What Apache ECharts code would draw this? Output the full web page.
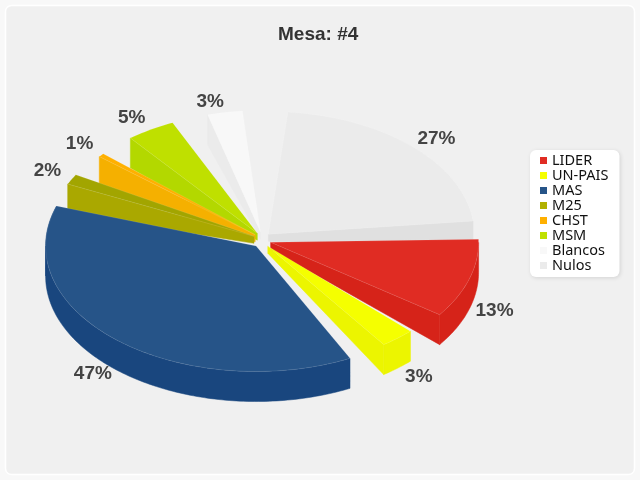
<!DOCTYPE html>
<html><head><meta charset="utf-8">
<script src="https://cdn.jsdelivr.net/npm/echarts@6/dist/echarts.min.js"></script>
<style>html,body{margin:0;padding:0;background:#f8f8f8}#c{width:640px;height:480px}</style>
</head><body><div id="c"></div>
<script>
const categories = ['LIDER','UN-PAIS','MAS','M25','CHST','MSM','Blancos','Nulos'];
const values = [13,3.49,47.4,1.7,0.6,4.9,3.49,27.49];
const topColors = ['#e02c23','#f5ff00','#265488','#a2a500','#ffb000','#bfe000','#f8f8f8','#ebebeb'];
const wallColors = ['#d62319','#ecf500','#19467e','#aaa800','#f5b000','#b3d800','#ebebeb','#e0e0e0'];
const legendColors = ['#e02c23','#f5ff00','#265488','#b0b000','#ffb000','#bfe000','#f8f8f8','#ebebeb'];

// layout of the tilted pie
const CX=262, CY=240, RX=208, RY=124, DEPTH=30, APEX_DEPTH=7, EXPLODE_X=9, EXPLODE_Y=8;
const DEG_PER_UNIT=2.85, START=-1.4;
const GAP_AFTER=[9.35,8.55,6.6,10.05,9.69,9.53,10.55,3];
const RADIUS_SCALE=[1,0.97,1.012,0.99,0.98,0.98,0.98,0.99];
const LABEL_NUDGE=[[-2,-2],[-1,-5],[-8,-7],[3,-1],[3,0],[-2,2],[-9,6],[2,3]];
const DRAW_ORDER=[7,6,5,4,3,2,0,1];

const rad=d=>d*Math.PI/180;
const spans=[];let cur=START;
values.forEach((v,i)=>{const a=cur,b=cur+v*DEG_PER_UNIT;spans.push([a,b]);cur=b+GAP_AFTER[i];});

function renderSlice(idx){
  return function(params,api){
    const v=api.value(0);
    const a=spans[idx][0], b=a+v*DEG_PER_UNIT, mid=(a+b)/2;
    const ax=CX+EXPLODE_X*Math.cos(rad(mid)), ay=CY+EXPLODE_Y*Math.sin(rad(mid));
    const sc=RADIUS_SCALE[idx];
    const rim=t=>[ax+sc*RX*Math.cos(rad(t)), ay+sc*RY*Math.sin(rad(t))];
    const arc=(s,e,dy)=>{const pts=[],n=Math.max(2,Math.ceil(Math.abs(e-s)));
      for(let k=0;k<=n;k++){const p=rim(s+(e-s)*k/n);pts.push([p[0],p[1]+dy]);}return pts;};
    const children=[];
    const wallStyle={fill:wallColors[idx],stroke:wallColors[idx],lineWidth:0.5};
    const radial=t=>{const p=rim(t);children.push({type:'polygon',shape:{points:[[ax,ay],p,[p[0],p[1]+DEPTH],[ax,ay+APEX_DEPTH]]},style:wallStyle});};
    if(Math.cos(rad(a))<0) radial(a);
    if(Math.cos(rad(b))>0) radial(b);
    // outer wall on the near half
    const fs=Math.max(a,0), fe=Math.min(b,180);
    if(fe>fs){
      const top=arc(fs,fe,0), bot=arc(fe,fs,DEPTH);
      children.push({type:'polygon',shape:{points:top.concat(bot)},style:wallStyle});
    }
    // left edge of the wall where the slice turns past 180 degrees
    if(a<180 && b>180){
      const top=arc(180,b,0), bot=arc(b,180,DEPTH);
      children.push({type:'polygon',shape:{points:top.concat(bot)},style:wallStyle});
    }
    // top surface
    children.push({type:'polygon',shape:{points:[[ax,ay]].concat(arc(a,b,0))},
      style:{fill:topColors[idx],stroke:'rgba(255,255,255,0.1)',lineWidth:1}});
    // percentage label
    const sn=Math.sin(rad(mid));
    const lx=CX+1.18*RX*Math.cos(rad(mid))+LABEL_NUDGE[idx][0];
    const ly=CY+1.18*RY*sn+(sn>0?DEPTH:0)+LABEL_NUDGE[idx][1];
    children.push({type:'text',x:lx,y:ly,z2:50,silent:true,
      style:{text:Math.round(v)+'%',fill:'#444',font:'bold 19px "Liberation Sans"',textAlign:'center',textVerticalAlign:'middle'}});
    return {type:'group',children};
  };
}

const chart=echarts.init(document.getElementById('c'),null,{renderer:'canvas',width:640,height:480});
chart.setOption({
  animation:false,
  backgroundColor:'#f8f8f8',
  color:legendColors,
  graphic:[{type:'rect',z:-10,silent:true,shape:{x:5.5,y:5.5,width:629,height:469,r:6},
    style:{fill:'#f0f0f0',stroke:'#ffffff',lineWidth:1.5}}],
  title:{text:'Mesa: #4',left:273,top:20,
    textStyle:{fontFamily:'Liberation Sans',fontSize:19,fontWeight:'bold',color:'#333'}},
  legend:{orient:'vertical',left:530,top:150,padding:[3,11,4,10],itemGap:0,itemWidth:7,itemHeight:7,icon:'rect',
    data:categories,backgroundColor:'#fff',borderRadius:6,shadowBlur:4,shadowColor:'rgba(0,0,0,0.12)',shadowOffsetX:1,shadowOffsetY:1,
    selectedMode:false,textStyle:{fontFamily:'Noto Sans',fontSize:14.5,color:'#111',padding:[0,0,0,0],lineHeight:14}},
  series:DRAW_ORDER.map((i,o)=>({type:'custom',name:categories[i],coordinateSystem:'none',z:2+o,
    itemStyle:{color:legendColors[i]},data:[[values[i]]],renderItem:renderSlice(i),silent:true}))
});
</script></body></html>
